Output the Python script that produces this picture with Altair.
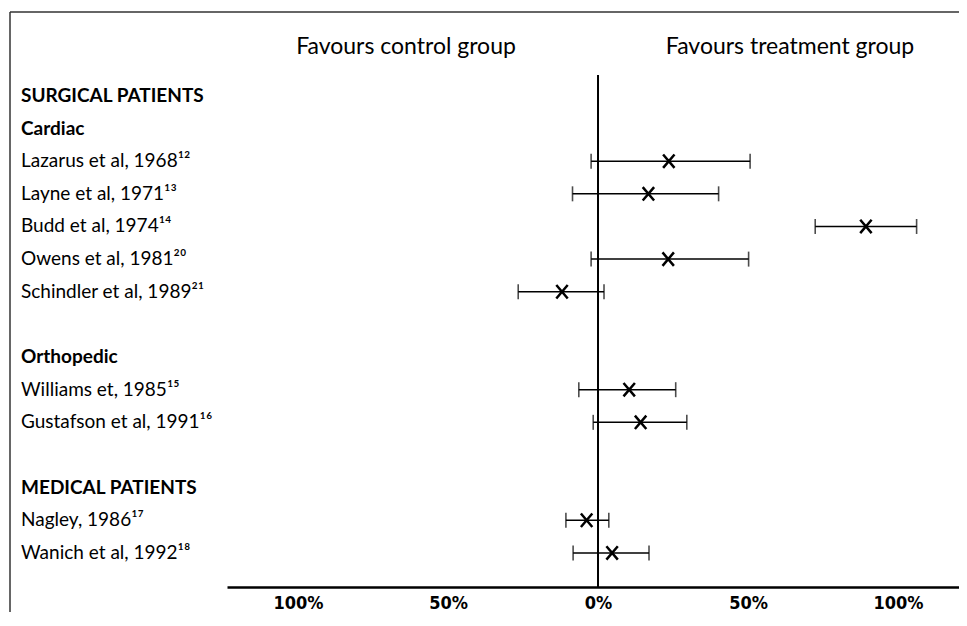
import altair as alt
import pandas as pd

# Row order (top to bottom); blank strings are spacer rows
rows = [
    "SURGICAL PATIENTS", "Cardiac",
    "Lazarus et al, 1968¹²", "Layne et al, 1971¹³", "Budd et al, 1974¹⁴",
    "Owens et al, 1981²⁰", "Schindler et al, 1989²¹", " ",
    "Orthopedic",
    "Williams et, 1985¹⁵", "Gustafson et al, 1991¹⁶", "  ",
    "MEDICAL PATIENTS",
    "Nagley, 1986¹⁷", "Wanich et al, 1992¹⁸",
]
headings = ["SURGICAL PATIENTS", "Cardiac", "Orthopedic", "MEDICAL PATIENTS"]
studies = [
    "Lazarus et al, 1968¹²", "Layne et al, 1971¹³", "Budd et al, 1974¹⁴",
    "Owens et al, 1981²⁰", "Schindler et al, 1989²¹",
    "Williams et, 1985¹⁵", "Gustafson et al, 1991¹⁶",
    "Nagley, 1986¹⁷", "Wanich et al, 1992¹⁸",
]
estimate = [23.6, 16.8, 89.3, 23.4, -12.0, 10.4, 14.2, -3.8, 4.7]
lower = [-2.3, -8.5, 72.4, -2.3, -26.6, -6.4, -1.6, -10.7, -8.3]
upper = [50.7, 40.2, 106.2, 50.2, 2.0, 25.9, 29.6, 3.6, 17.0]

side_labels = ["Favours control group", "Favours treatment group"]
side_x = [-64, 64]
tick_values = [-100, -50, 0, 50, 100]

df = pd.DataFrame({"name": studies, "est": estimate, "lo": lower, "hi": upper})
labels_df = pd.DataFrame({"name": [r for r in rows if r.strip() and r not in headings]})
head_df = pd.DataFrame({"name": headings})
side_df = pd.DataFrame({"label": side_labels, "x": side_x})
zero_df = pd.DataFrame({"x": [0]})

FONT = "Lato"
xscale = alt.Scale(domain=[-123.67, 120.33], nice=False, zero=False)
yscale = alt.Scale(domain=rows, type="point", padding=0.8425, align=0.38)

xaxis = alt.Axis(
    values=tick_values, labelExpr="abs(datum.value) + '%'", ticks=False, grid=False,
    domainColor="black", domainWidth=2.5, labelFont="DejaVu Sans Condensed",
    labelFontSize=18, labelFontWeight="bold", labelColor="black", labelPadding=7,
    labelFlush=False, labelOverlap=False, title=None,
)

base = alt.Chart(df)

bars = base.mark_rule(color="black", strokeWidth=1.5).encode(
    x=alt.X("lo:Q", scale=xscale, axis=xaxis),
    x2="hi:Q",
    y=alt.Y("name:N", scale=yscale, axis=None),
)
cap_lo = base.mark_tick(orient="vertical", size=15, thickness=1.6, color="black").encode(
    x=alt.X("lo:Q", scale=xscale), y=alt.Y("name:N", scale=yscale, axis=None)
)
cap_hi = base.mark_tick(orient="vertical", size=15, thickness=1.6, color="black").encode(
    x=alt.X("hi:Q", scale=xscale), y=alt.Y("name:N", scale=yscale, axis=None)
)
marks = base.mark_point(
    shape="M-0.85,-1L0.85,1M0.85,-1L-0.85,1", filled=False, color="black",
    strokeWidth=2.5, size=180, opacity=1,
).encode(x=alt.X("est:Q", scale=xscale), y=alt.Y("name:N", scale=yscale, axis=None))

zero = alt.Chart(zero_df).mark_rule(color="black", strokeWidth=2).encode(
    x=alt.X("x:Q", scale=xscale)
)

study_text = alt.Chart(labels_df).mark_text(
    align="left", baseline="middle", font=FONT, fontSize=19, color="black"
).encode(x=alt.value(-206), y=alt.Y("name:N", scale=yscale, axis=None), text="name:N")

head_text = alt.Chart(head_df).mark_text(
    align="left", baseline="middle", font=FONT, fontSize=19, fontWeight="bold", color="black"
).encode(x=alt.value(-206), y=alt.Y("name:N", scale=yscale, axis=None), text="name:N")

side_text = alt.Chart(side_df).mark_text(
    align="center", baseline="middle", font=FONT, fontSize=23, color="black"
).encode(x=alt.X("x:Q", scale=xscale), y=alt.value(-28), text="label:N")

frame_top = alt.Chart(zero_df).mark_rule(color="#333333", strokeWidth=1.5).encode(
    x=alt.value(-217), x2=alt.value(740), y=alt.value(-63)
)
frame_left = alt.Chart(zero_df).mark_rule(color="#333333", strokeWidth=1.5).encode(
    x=alt.value(-217), y=alt.value(-63), y2=alt.value(560)
)

chart = alt.layer(
    frame_top, frame_left, zero, bars, cap_lo, cap_hi, marks,
    study_text, head_text, side_text,
).properties(
    width=732, height=512,
    autosize=alt.AutoSizeParams(type="none"),
    padding={"left": 219, "top": 67, "right": 0, "bottom": 25},
    background="white",
).configure_view(stroke=None)

chart.save("out.html", embed_options={"renderer": "svg", "actions": False})
